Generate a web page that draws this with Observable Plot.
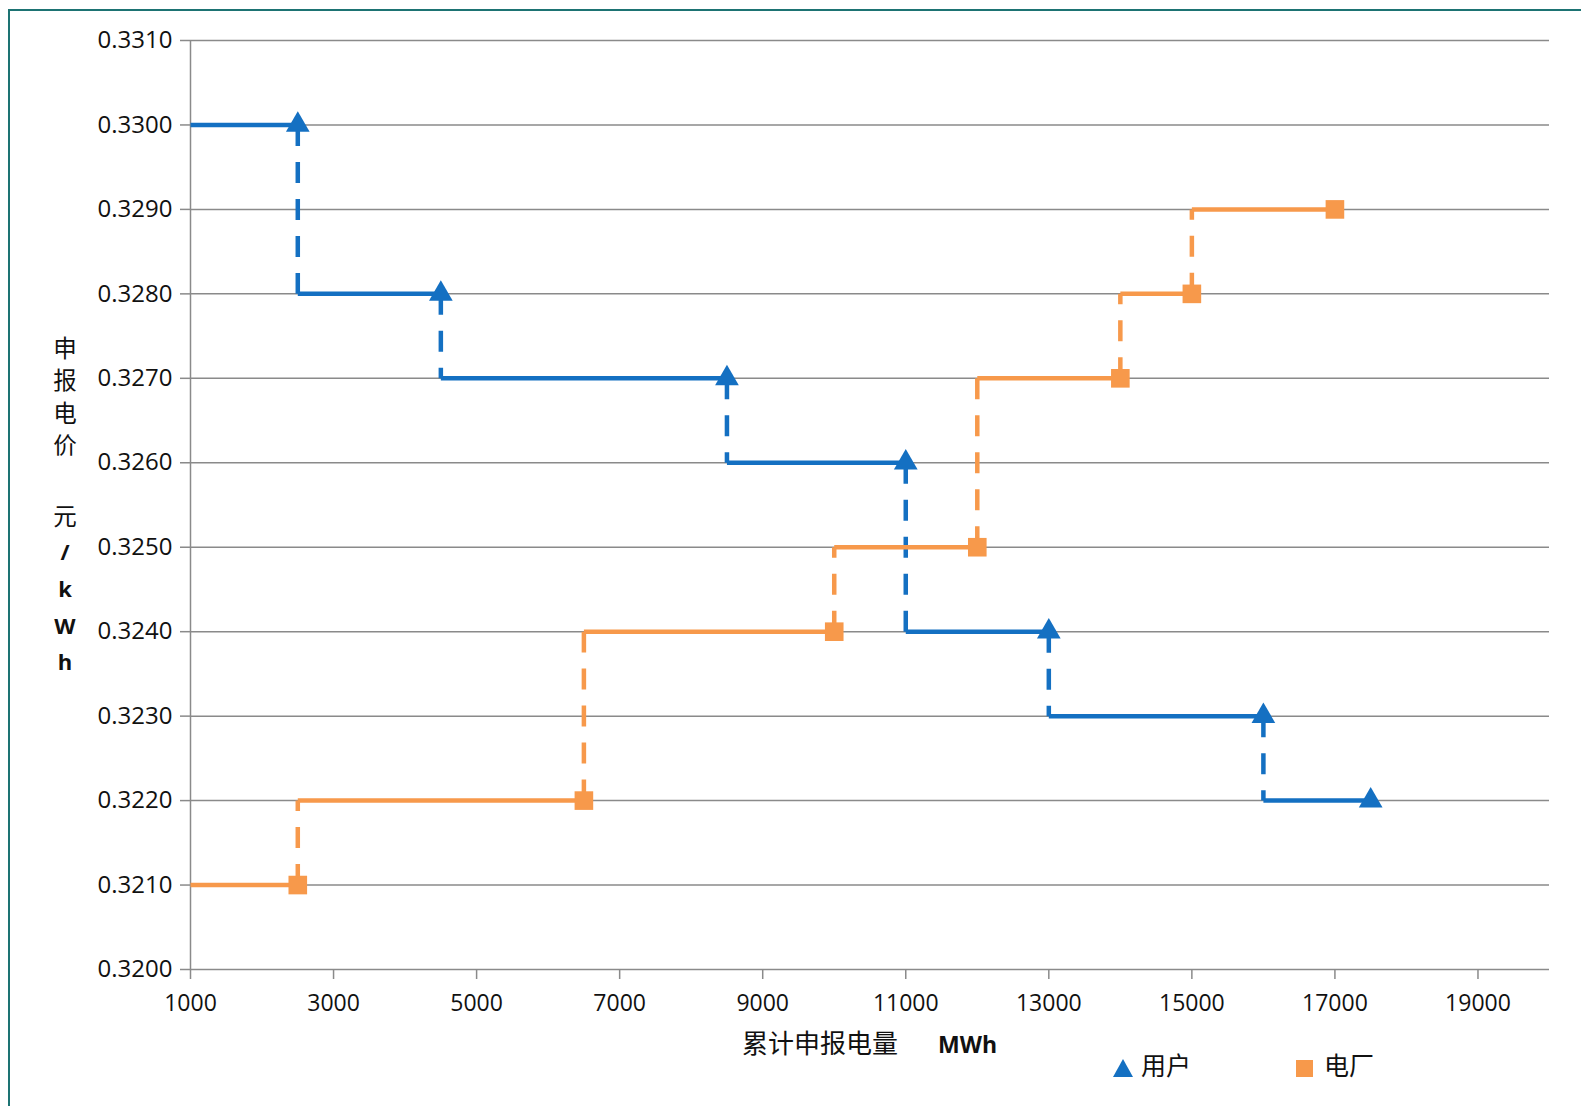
<!DOCTYPE html>
<html>
<head>
<meta charset="utf-8">
<script src="https://cdn.jsdelivr.net/npm/d3@7"></script>
<script src="https://cdn.jsdelivr.net/npm/@observablehq/plot@0.6"></script>
<style>
  html, body { margin: 0; padding: 0; background: #fff; overflow: hidden; }
  #page { width: 1581px; height: 1106px; position: relative; overflow: hidden;
         font-family: "Open Sans", "Noto Sans CJK SC", sans-serif; }
  #frame { position: absolute; left: 8px; top: 9px; width: 1573px; height: 1097px;
           border-left: 2px solid #1d7373; border-top: 2px solid #1d7373; box-sizing: border-box; }
  #chart { position: absolute; left: 0; top: 0; width: 1581px; }
  #chart svg { max-width: none !important; display: block; }
  .abs { position: absolute; white-space: nowrap; color: #111; }
  .cjk { font-family: "Noto Sans CJK SC", sans-serif; }
</style>
</head>
<body>
<div id="page">
<div id="frame"></div>
<div id="chart"></div>
<div class="abs cjk" style="left:742px; top:1025px; font-size:26px; line-height:34px;">累计申报电量<span style="font-family:'Open Sans',sans-serif; font-weight:700; font-size:23px; margin-left:40px;">MWh</span></div>
<div id="ylabel" class="abs cjk" style="left:51px; top:331px; width:28px; text-align:center; font-size:23.5px;"></div>
<div id="legend"></div>
</div>
<script>
// ---- data ----
const startQty = 1000;
const userQty   = [2500, 4500, 8500, 11000, 13000, 16000, 17500];
const userPrice = [0.3300, 0.3280, 0.3270, 0.3260, 0.3240, 0.3230, 0.3220];
const plantQty   = [2500, 6500, 10000, 12000, 14000, 15000, 17000];
const plantPrice = [0.3210, 0.3220, 0.3240, 0.3250, 0.3270, 0.3280, 0.3290];
const xTicks = [1000, 3000, 5000, 7000, 9000, 11000, 13000, 15000, 17000, 19000];
const yTicks = [0.320, 0.321, 0.322, 0.323, 0.324, 0.325, 0.326, 0.327, 0.328, 0.329, 0.330, 0.331];
const seriesNames = ["用户", "电厂"];

const BLUE = "#1470c2", ORANGE = "#f7994b";

function steps(qty, price) {
  const h = qty.map((q, i) => ({x1: i === 0 ? startQty : qty[i - 1], x2: q, y: price[i]}));
  const v = qty.slice(0, -1).map((q, i) => ({x: q, y1: price[i], y2: price[i + 1]}));
  const pts = qty.map((q, i) => ({x: q, y: price[i]}));
  return {h, v, pts};
}
const U = steps(userQty, userPrice);
const P = steps(plantQty, plantPrice);

const chart = Plot.plot({
  width: 1581,
  height: 1024,
  marginLeft: 190,
  marginRight: 32,
  marginTop: 40,
  marginBottom: 55,
  style: {fontFamily: "'Open Sans', sans-serif", fontSize: "23px", color: "#111", background: "transparent", maxWidth: "none"},
  x: {domain: [1000, 20000], label: null},
  y: {domain: [0.320, 0.331], label: null},
  marks: [
    Plot.ruleY(yTicks, {stroke: "#8a8a8a", strokeWidth: 1.5}),
    Plot.ruleX([1000], {stroke: "#8a8a8a", strokeWidth: 1.5}),
    Plot.axisX({ticks: xTicks, tickFormat: d => String(d), stroke: "#8a8a8a", strokeWidth: 1.5, tickSize: 10, tickPadding: 15, fontSize: 23, label: null}),
    Plot.axisY({ticks: yTicks, tickFormat: d3.format(".4f"), stroke: "#8a8a8a", strokeWidth: 1.5, tickSize: 10, tickPadding: 8, fontSize: 24, label: null}),
    // user (blue)
    Plot.link(U.h, {x1: "x1", x2: "x2", y1: "y", y2: "y", stroke: BLUE, strokeWidth: 4.5}),
    Plot.link(U.v, {x1: "x", x2: "x", y1: "y1", y2: "y2", stroke: BLUE, strokeWidth: 4.5, strokeDasharray: "21,16"}),
    // plant (orange)
    Plot.link(P.h, {x1: "x1", x2: "x2", y1: "y", y2: "y", stroke: ORANGE, strokeWidth: 4.5}),
    Plot.link(P.v, {x1: "x", x2: "x", y1: "y1", y2: "y2", stroke: ORANGE, strokeWidth: 4.5, strokeDasharray: "21,16"}),
    Plot.dot(U.pts, {x: "x", y: "y", symbol: "triangle", r: 8.8, fill: BLUE, stroke: null}),
    Plot.dot(P.pts, {x: "x", y: "y", symbol: "square", r: 10.5, fill: ORANGE, stroke: null})
  ]
});
document.getElementById("chart").appendChild(chart);

// y label (stacked characters)
const yChars = ["申", "报", "电", "价", "", "元", "/", "k", "W", "h"];
const yl = document.getElementById("ylabel");
yChars.forEach((c, i) => {
  const d = document.createElement("div");
  d.textContent = c || "\u00a0";
  const hgt = i < 4 ? 32.3 : 36.6;
  d.style.height = hgt + "px";
  d.style.lineHeight = hgt + "px";
  if (i >= 6) { d.style.fontFamily = "'Open Sans', sans-serif"; d.style.fontWeight = "700"; d.style.fontSize = "22px"; }
  yl.appendChild(d);
});

// legend
const lg = document.getElementById("legend");
const legendItems = [
  {name: seriesNames[0], color: BLUE, shape: "tri", left: 1113, textLeft: 1141},
  {name: seriesNames[1], color: ORANGE, shape: "sq", left: 1296, textLeft: 1324}
];
legendItems.forEach(it => {
  const m = document.createElement("div");
  m.className = "abs";
  m.style.left = it.left + "px";
  m.style.lineHeight = "0";
  if (it.shape === "tri") {
    m.style.top = "1059px";
    m.innerHTML = `<svg width="20" height="18"><polygon points="10,0 20,18 0,18" fill="${it.color}"/></svg>`;
  } else {
    m.style.top = "1060px";
    m.innerHTML = `<svg width="17" height="17"><rect width="17" height="17" fill="${it.color}"/></svg>`;
  }
  lg.appendChild(m);
  const t = document.createElement("div");
  t.className = "abs cjk";
  t.style.left = it.textLeft + "px";
  t.style.top = "1047px";
  t.style.fontSize = "25px";
  t.style.lineHeight = "34px";
  t.textContent = it.name;
  lg.appendChild(t);
});
</script>
</body>
</html>
